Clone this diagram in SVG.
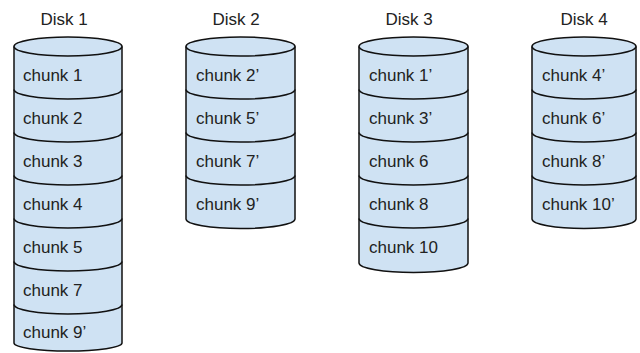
<svg xmlns="http://www.w3.org/2000/svg" width="640" height="353" viewBox="0 0 640 353">
<style>
.body{fill:#cfe2f3;stroke:#111;stroke-width:1.5}
.sep{fill:none;stroke:#111;stroke-width:1.5}
.t{font-family:"Liberation Sans",Arial,sans-serif;font-size:17px;fill:#222}
.title{font-family:"Liberation Sans",Arial,sans-serif;font-size:17px;fill:#222;text-anchor:middle}
</style>
<rect width="640" height="353" fill="#fff"/>
<g id="disk1">
<text class="title" x="64" y="25">Disk 1</text>
<path class="body" d="M14,46.5 A54,9.5 0 0 1 122,46.5 V343 A54,8 0 0 1 14,343 Z"/>
<path class="sep" d="M14,46.5 A54,9.5 0 0 0 122,46.5 M14,89.5 A54,9.5 0 0 0 122,89.5 M14,132.5 A54,9.5 0 0 0 122,132.5 M14,175.5 A54,9.5 0 0 0 122,175.5 M14,218.5 A54,9.5 0 0 0 122,218.5 M14,261.5 A54,9.5 0 0 0 122,261.5 M14,304.5 A54,9.5 0 0 0 122,304.5"/>
<text class="t" x="23" y="81">chunk 1</text>
<text class="t" x="23" y="124">chunk 2</text>
<text class="t" x="23" y="167">chunk 3</text>
<text class="t" x="23" y="210">chunk 4</text>
<text class="t" x="23" y="253">chunk 5</text>
<text class="t" x="23" y="296">chunk 7</text>
<text class="t" x="23" y="338">chunk 9’</text>
</g>
<g id="disk2">
<text class="title" x="236" y="25">Disk 2</text>
<path class="body" d="M186,46.5 A54.5,9.5 0 0 1 295,46.5 V219 A54.5,9.5 0 0 1 186,219 Z"/>
<path class="sep" d="M186,46.5 A54.5,9.5 0 0 0 295,46.5 M186,89.5 A54.5,9.5 0 0 0 295,89.5 M186,132.5 A54.5,9.5 0 0 0 295,132.5 M186,175.5 A54.5,9.5 0 0 0 295,175.5"/>
<text class="t" x="196" y="81">chunk 2’</text>
<text class="t" x="196" y="124">chunk 5’</text>
<text class="t" x="196" y="167">chunk 7’</text>
<text class="t" x="196" y="210">chunk 9’</text>
</g>
<g id="disk3">
<text class="title" x="409" y="25">Disk 3</text>
<path class="body" d="M359,46.5 A54.5,9.5 0 0 1 468,46.5 V263 A54.5,9.5 0 0 1 359,263 Z"/>
<path class="sep" d="M359,46.5 A54.5,9.5 0 0 0 468,46.5 M359,89.5 A54.5,9.5 0 0 0 468,89.5 M359,132.5 A54.5,9.5 0 0 0 468,132.5 M359,175.5 A54.5,9.5 0 0 0 468,175.5 M359,218.5 A54.5,9.5 0 0 0 468,218.5"/>
<text class="t" x="369" y="81">chunk 1’</text>
<text class="t" x="369" y="124">chunk 3’</text>
<text class="t" x="369" y="167">chunk 6</text>
<text class="t" x="369" y="210">chunk 8</text>
<text class="t" x="369" y="253">chunk 10</text>
</g>
<g id="disk4">
<text class="title" x="584" y="25">Disk 4</text>
<path class="body" d="M532,46.5 A52,9.5 0 0 1 636,46.5 V219 A52,9.5 0 0 1 532,219 Z"/>
<path class="sep" d="M532,46.5 A52,9.5 0 0 0 636,46.5 M532,89.5 A52,9.5 0 0 0 636,89.5 M532,132.5 A52,9.5 0 0 0 636,132.5 M532,175.5 A52,9.5 0 0 0 636,175.5"/>
<text class="t" x="542" y="81">chunk 4’</text>
<text class="t" x="542" y="124">chunk 6’</text>
<text class="t" x="542" y="167">chunk 8’</text>
<text class="t" x="542" y="210">chunk 10’</text>
</g>
<g id="connectors"></g>
</svg>
